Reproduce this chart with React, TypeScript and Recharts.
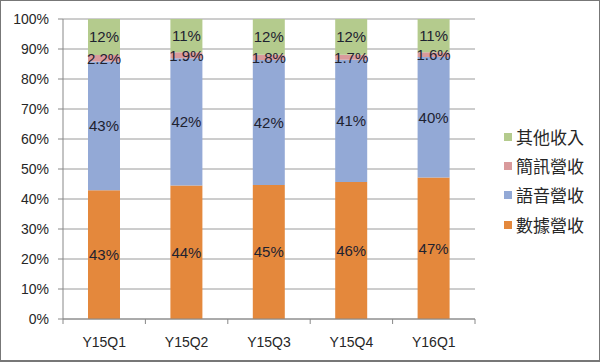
import { BarChart, Bar, XAxis, YAxis, CartesianGrid, LabelList } from 'recharts'

const quarters = ['Y15Q1', 'Y15Q2', 'Y15Q3', 'Y15Q4', 'Y16Q1']
const dataRevenue = [43, 44, 45, 46, 47]
const voiceRevenue = [43, 42, 42, 41, 40]
const smsRevenue = [2.2, 1.9, 1.8, 1.7, 1.6]
const otherIncome = [12, 11, 12, 12, 11]
const yTicks = [0, 0.1, 0.2, 0.3, 0.4, 0.5, 0.6, 0.7, 0.8, 0.9, 1]

const series = [
  { key: 'data', name: '數據營收', color: '#E4883C', values: dataRevenue },
  { key: 'voice', name: '語音營收', color: '#93A9D6', values: voiceRevenue },
  { key: 'sms', name: '簡訊營收', color: '#D99A9C', values: smsRevenue },
  { key: 'other', name: '其他收入', color: '#B4CB8D', values: otherIncome },
]

const rows = quarters.map((q, i) => {
  const row: Record<string, string | number> = { quarter: q }
  series.forEach((s) => (row[s.key] = s.values[i]))
  return row
})

const font = '"Liberation Sans", Arial, sans-serif'

function QuarterTick(props: any) {
  const { x, y, payload, index, visibleTicksCount } = props
  const half = payload?.offset ?? 0
  return (
    <g>
      <line x1={x - half} x2={x - half} y1={y} y2={y + 5} stroke="#888" />
      {index === visibleTicksCount - 1 && (
        <line x1={x + half} x2={x + half} y1={y} y2={y + 5} stroke="#888" />
      )}
      <text x={x} y={y + 28} textAnchor="middle" fontSize={14} fill="#262626" fontFamily={font}>
        {payload.value}
      </text>
    </g>
  )
}

export default function App() {
  return (
    <div style={{ position: 'fixed', left: 0, top: 0, width: 600, height: 362, background: '#fff' }}>
      <BarChart
        width={600}
        height={362}
        data={rows}
        stackOffset="expand"
        margin={{ top: 19, right: 125, bottom: 0, left: 0 }}
      >
        <CartesianGrid vertical={false} stroke="#9a9a9a" />
        <XAxis
          dataKey="quarter"
          height={43}
          stroke="#888"
          tickLine={false}
          tickSize={0}
          tickMargin={0}
          tick={<QuarterTick />}
          interval={0}
        />
        <YAxis
          width={63}
          domain={[0, 1]}
          ticks={yTicks}
          stroke="#888"
          tickSize={5}
          tickMargin={9}
          tick={{ fill: '#262626', fontSize: 14, fontFamily: font }}
          tickFormatter={(v: number) => `${Math.round(v * 100)}%`}
        />
        {series.map((s) => (
          <Bar key={s.key} dataKey={s.key} name={s.name} stackId="a" fill={s.color} barSize={32} isAnimationActive={false}>
            <LabelList
              dataKey={s.key}
              position="center"
              formatter={(v: any) => `${v}%`}
              style={{ fill: '#1e2230', fontSize: 15, fontFamily: font }}
            />
          </Bar>
        ))}
      </BarChart>
      <div style={{ position: 'absolute', left: 504, top: 122, fontFamily: '"Noto Sans CJK TC", sans-serif' }}>
        {[...series].reverse().map((s) => (
          <div key={s.key} style={{ display: 'flex', alignItems: 'center', height: 29.3 }}>
            <span style={{ width: 8, height: 8, background: s.color, marginRight: 4 }} />
            <span style={{ fontSize: 17, color: '#262626', lineHeight: '20px' }}>{s.name}</span>
          </div>
        ))}
      </div>
      <div style={{ position: 'absolute', inset: 0, border: '1px solid #777', borderBottomWidth: 2, pointerEvents: 'none' }} />
    </div>
  )
}
